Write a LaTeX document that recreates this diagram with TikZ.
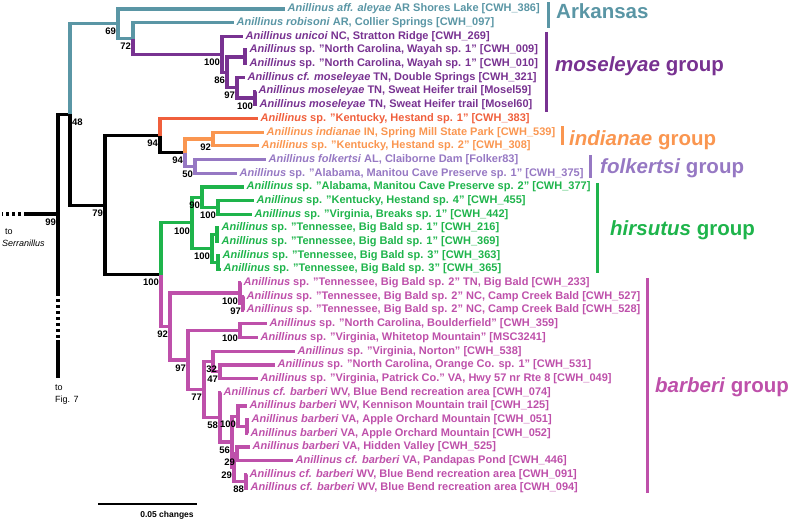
\documentclass[tikz,border=0pt]{standalone}
\usepackage{fontspec}
\setmainfont{Liberation Sans}
\definecolor{CladeArkansas}{RGB}{90,150,165}
\definecolor{CladeMoseleyae}{RGB}{120,50,145}
\definecolor{CladeKentucky}{RGB}{240,95,60}
\definecolor{CladeIndianae}{RGB}{250,150,80}
\definecolor{CladeFolkertsi}{RGB}{150,120,195}
\definecolor{CladeHirsutus}{RGB}{30,180,75}
\definecolor{CladeBarberi}{RGB}{190,80,170}
\tikzset{
    branch/.style={line width=3.2pt},
    broken/.style={dash pattern=on 2.8pt off 3.2pt},
    tip label/.style={anchor=west, inner xsep=2.5pt, inner ysep=0pt,
        font=\fontsize{11}{13}\selectfont\bfseries},
    support/.style={anchor=north east, inner sep=0.8pt, xshift=-1pt, yshift=-3.6pt,
        font=\fontsize{9.5}{11}\selectfont\bfseries},
    note/.style={anchor=west, inner sep=0pt, font=\fontsize{9}{11}\selectfont},
    group bar/.style={line width=3pt},
    group label/.style={anchor=base west, inner sep=0pt,
        font=\fontsize{20.5}{24}\selectfont\bfseries},
}

\begin{document}
\begin{tikzpicture}[x=1pt, y={(0pt,-13.69pt)}]
\useasboundingbox (0,0.343) rectangle (790,38.40);

% Nodos internos (x = longitud de rama, y = fila)
\coordinate (n99) at (58,15.97);
\coordinate (n48) at (70,8.70);
\coordinate (n69) at (118,2.078);
\coordinate (n72) at (133,3.156);
\coordinate (nMos) at (222,4.3125);
\coordinate (n86) at (227,5.625);
\coordinate (nWay) at (245,4.5);
\coordinate (n97a) at (237,6.75);
\coordinate (nSwe) at (255,7.5);
\coordinate (n79) at (105,15.33);
\coordinate (n94a) at (160,10.25);
\coordinate (n94b) at (185,11.5);
\coordinate (nInd) at (213,10.5);
\coordinate (nFol) at (195,12.5);
\coordinate (n100a) at (161,20.41);
\coordinate (nHir) at (192,16.625);
\coordinate (n90) at (202,14.75);
\coordinate (nHes) at (218,15.5);
\coordinate (nBig) at (212,18.5);
\coordinate (nBig1) at (217,17.5);
\coordinate (nBig3) at (218,19.5);
\coordinate (nBar) at (170,24.195);
\coordinate (nBb2) at (240,21.75);
\coordinate (nCam) at (243,22.5);
\coordinate (n97b) at (188,26.64);
\coordinate (nBou) at (240,24.5);
\coordinate (n77) at (204,28.78);
\coordinate (n32) at (213,26.75);
\coordinate (n47) at (220,27.5);
\coordinate (n58) at (220,30.8125);
\coordinate (n56) at (232,32.625);
\coordinate (nKen) at (238,30.75);
\coordinate (nApp) at (247,31.5);
\coordinate (n29b) at (234,34.5);
\coordinate (n29a) at (237,33.5);
\coordinate (n88) at (246,35.5);

% Terminales
\node[tip label, text=CladeArkansas] (t386) at (285,1) {\textit{Anillinus aff. aleyae} AR Shores Lake [CWH\_386]};
\node[tip label, text=CladeArkansas] (t097) at (234,2) {\textit{Anillinus robisoni} AR, Collier Springs [CWH\_097]};
\node[tip label, text=CladeMoseleyae] (t269) at (243,3) {\textit{Anillinus unicoi} NC, Stratton Ridge [CWH\_269]};
\node[tip label, text=CladeMoseleyae] (t009) at (247,4) {\textit{Anillinus} sp. "North Carolina, Wayah sp. 1" [CWH\_009]};
\node[tip label, text=CladeMoseleyae] (t010) at (247,5) {\textit{Anillinus} sp. "North Carolina, Wayah sp. 1" [CWH\_010]};
\node[tip label, text=CladeMoseleyae] (t321) at (245,6) {\textit{Anillinus cf. moseleyae} TN, Double Springs [CWH\_321]};
\node[tip label, text=CladeMoseleyae] (tM59) at (256,7) {\textit{Anillinus moseleyae} TN, Sweat Heifer trail [Mosel59]};
\node[tip label, text=CladeMoseleyae] (tM60) at (257,8) {\textit{Anillinus moseleyae} TN, Sweat Heifer trail [Mosel60]};
\node[tip label, text=CladeKentucky] (t383) at (258,9) {\textit{Anillinus} sp. "Kentucky, Hestand sp. 1" [CWH\_383]};
\node[tip label, text=CladeIndianae] (t539) at (264,10) {\textit{Anillinus indianae} IN, Spring Mill State Park [CWH\_539]};
\node[tip label, text=CladeIndianae] (t308) at (259,11) {\textit{Anillinus} sp. "Kentucky, Hestand sp. 2" [CWH\_308]};
\node[tip label, text=CladeFolkertsi] (tF83) at (266,12) {\textit{Anillinus folkertsi} AL, Claiborne Dam [Folker83]};
\node[tip label, text=CladeFolkertsi] (t375) at (237,13) {\textit{Anillinus} sp. "Alabama, Manitou Cave Preserve sp. 1" [CWH\_375]};
\node[tip label, text=CladeHirsutus] (t377) at (244,14) {\textit{Anillinus} sp. "Alabama, Manitou Cave Preserve sp. 2" [CWH\_377]};
\node[tip label, text=CladeHirsutus] (t455) at (254,15) {\textit{Anillinus} sp. "Kentucky, Hestand sp. 4" [CWH\_455]};
\node[tip label, text=CladeHirsutus] (t442) at (252,16) {\textit{Anillinus} sp. "Virginia, Breaks sp. 1" [CWH\_442]};
\node[tip label, text=CladeHirsutus] (t216) at (219,17) {\textit{Anillinus} sp. "Tennessee, Big Bald sp. 1" [CWH\_216]};
\node[tip label, text=CladeHirsutus] (t369) at (219,18) {\textit{Anillinus} sp. "Tennessee, Big Bald sp. 1" [CWH\_369]};
\node[tip label, text=CladeHirsutus] (t363) at (220,19) {\textit{Anillinus} sp. "Tennessee, Big Bald sp. 3" [CWH\_363]};
\node[tip label, text=CladeHirsutus] (t365) at (221,20) {\textit{Anillinus} sp. "Tennessee, Big Bald sp. 3" [CWH\_365]};
\node[tip label, text=CladeBarberi] (t233) at (241,21) {\textit{Anillinus} sp. "Tennessee, Big Bald sp. 2" TN, Big Bald [CWH\_233]};
\node[tip label, text=CladeBarberi] (t527) at (244,22) {\textit{Anillinus} sp. "Tennessee, Big Bald sp. 2" NC, Camp Creek Bald [CWH\_527]};
\node[tip label, text=CladeBarberi] (t528) at (244,23) {\textit{Anillinus} sp. "Tennessee, Big Bald sp. 2" NC, Camp Creek Bald [CWH\_528]};
\node[tip label, text=CladeBarberi] (t359) at (267,24) {\textit{Anillinus} sp. "North Carolina, Boulderfield" [CWH\_359]};
\node[tip label, text=CladeBarberi] (t3241) at (258,25) {\textit{Anillinus} sp. "Virginia, Whitetop Mountain" [MSC3241]};
\node[tip label, text=CladeBarberi] (t538) at (295,26) {\textit{Anillinus} sp. "Virginia, Norton" [CWH\_538]};
\node[tip label, text=CladeBarberi] (t531) at (275,27) {\textit{Anillinus} sp. "North Carolina, Orange Co. sp. 1" [CWH\_531]};
\node[tip label, text=CladeBarberi] (t049) at (258,28) {\textit{Anillinus} sp. "Virginia, Patrick Co." VA, Hwy 57 nr Rte 8 [CWH\_049]};
\node[tip label, text=CladeBarberi] (t074) at (221,29) {\textit{Anillinus cf. barberi} WV, Blue Bend recreation area [CWH\_074]};
\node[tip label, text=CladeBarberi] (t125) at (247,30) {\textit{Anillinus barberi} WV, Kennison Mountain trail [CWH\_125]};
\node[tip label, text=CladeBarberi] (t051) at (249,31) {\textit{Anillinus barberi} VA, Apple Orchard Mountain [CWH\_051]};
\node[tip label, text=CladeBarberi] (t052) at (248,32) {\textit{Anillinus barberi} VA, Apple Orchard Mountain [CWH\_052]};
\node[tip label, text=CladeBarberi] (t525) at (250,33) {\textit{Anillinus barberi} VA, Hidden Valley [CWH\_525]};
\node[tip label, text=CladeBarberi] (t446) at (293,34) {\textit{Anillinus cf. barberi} VA, Pandapas Pond [CWH\_446]};
\node[tip label, text=CladeBarberi] (t091) at (247,35) {\textit{Anillinus cf. barberi} WV, Blue Bend recreation area [CWH\_091]};
\node[tip label, text=CladeBarberi] (t094) at (248,36) {\textit{Anillinus cf. barberi} WV, Blue Bend recreation area [CWH\_094]};

% Ramas
\draw[branch] (n99) |- (n48) (n48) |- (n79) (n79) |- (n94a) (n94a) |- (n94b) (n79) |- (n100a);
\draw[branch, CladeArkansas] (n48) |- (n69) (n69) |- (t386.west) (n69) |- (n72) (n72) |- (t097.west);
\draw[branch, CladeMoseleyae] (n72) |- (nMos) (nMos) |- (t269.west) (nMos) |- (n86)
    (n86) |- (nWay) (nWay) |- (t009.west) (nWay) |- (t010.west)
    (n86) |- (n97a) (n97a) |- (t321.west) (n97a) |- (nSwe) (nSwe) |- (tM59.west) (nSwe) |- (tM60.west);
\draw[branch, CladeKentucky] (n94a) |- (t383.west);
\draw[branch, CladeIndianae] (n94b) |- (nInd) (nInd) |- (t539.west) (nInd) |- (t308.west);
\draw[branch, CladeFolkertsi] (n94b) |- (nFol) (nFol) |- (tF83.west) (nFol) |- (t375.west);
\draw[branch, CladeHirsutus] (n100a) |- (nHir) (nHir) |- (n90) (n90) |- (t377.west)
    (n90) |- (nHes) (nHes) |- (t455.west) (nHes) |- (t442.west)
    (nHir) |- (nBig) (nBig) |- (nBig1) (nBig1) |- (t216.west) (nBig1) |- (t369.west)
    (nBig) |- (nBig3) (nBig3) |- (t363.west) (nBig3) |- (t365.west);
\draw[branch, CladeBarberi] (n100a) |- (nBar) (nBar) |- (nBb2) (nBb2) |- (t233.west)
    (nBb2) |- (nCam) (nCam) |- (t527.west) (nCam) |- (t528.west)
    (nBar) |- (n97b) (n97b) |- (nBou) (nBou) |- (t359.west) (nBou) |- (t3241.west)
    (n97b) |- (n77) (n77) |- (n32) (n32) |- (t538.west) (n32) |- (n47) (n47) |- (t531.west) (n47) |- (t049.west)
    (n77) |- (n58) (n58) |- (t074.west) (n58) |- (n56)
    (n56) |- (nKen) (nKen) |- (t125.west) (nKen) |- (nApp) (nApp) |- (t051.west) (nApp) |- (t052.west)
    (n56) |- (n29b) (n29b) |- (n29a) (n29a) |- (t525.west) (n29a) |- (t446.west)
    (n29b) |- (n88) (n88) |- (t091.west) (n88) |- (t094.west);

% Ramas hacia los grupos externos
\coordinate (serr) at (27,15.97);
\coordinate (serrEnd) at (2,15.97);
\coordinate (figA) at (58,21.74);
\coordinate (figB) at (58,25.18);
\coordinate (figEnd) at (58,27.95);
\draw[branch] (n99) -- (serr);
\draw[branch, broken] (serr) -- (serrEnd);
\draw[branch] (n99) -- (figA);
\draw[branch, broken] (figA) -- (figB);
\draw[branch] (figB) -- (figEnd);
\node[note] (toSerr) at (5,17.29) {to};
\node[note] (nameSerr) at (2,18.09) {\textit{Serranillus}};
\node[note] (toFig) at (55,28.68) {to};
\node[note] (nameFig) at (55,29.56) {Fig. 7};

% Valores de soporte
\node[support] at (n99) {99};
\node[support, anchor=north west, xshift=2pt] at (n48) {48};
\node[support] at (n69) {69};
\node[support] at (n72) {72};
\node[support] at (nMos) {100};
\node[support] at (n86) {86};
\node[support] at (n97a) {97};
\node[support] at (nSwe) {100};
\node[support] at (n79) {79};
\node[support] at (n94a) {94};
\node[support] at (n94b) {94};
\node[support] at (nInd) {92};
\node[support] at (nFol) {50};
\node[support] at (n100a) {100};
\node[support] at (nHir) {100};
\node[support] at (n90) {90};
\node[support] at (nHes) {100};
\node[support] at (nBig) {100};
\node[support] at (nBar) {92};
\node[support] at (nBb2) {100};
\node[support] at (nCam) {97};
\node[support] at (n97b) {97};
\node[support] at (nBou) {100};
\node[support] at (n77) {77};
\node[support, xshift=6pt] at (n32) {32};
\node[support] at (n47) {47};
\node[support] at (n58) {58};
\node[support] at (n56) {56};
\node[support] at (nKen) {100};
\node[support] at (n29a) {29};
\node[support] at (n29b) {29};
\node[support] at (n88) {88};

% Barras y nombres de grupos
\draw[group bar, CladeArkansas] (548,0.49) -- (548,2.39);
\draw[group bar, CladeMoseleyae] (546,2.68) -- (546,8.52);
\draw[group bar, CladeIndianae] (562,9.55) -- (562,10.93);
\draw[group bar, CladeFolkertsi] (590,11.66) -- (590,13.34);
\draw[group bar, CladeHirsutus] (597,13.71) -- (597,20.28);
\draw[group bar, CladeBarberi] (647,20.65) -- (647,36.35);
\node[group label, text=CladeArkansas] (gArk) at (556,1.68) {Arkansas};
\node[group label, text=CladeMoseleyae] (gMos) at (555,5.58) {\textit{moseleyae} group};
\node[group label, text=CladeIndianae] (gInd) at (569,10.98) {\textit{indianae} group};
\node[group label, text=CladeFolkertsi] (gFol) at (600,13.0) {\textit{folkertsi} group};
\node[group label, text=CladeHirsutus] (gHir) at (610,17.51) {\textit{hirsutus} group};
\node[group label, text=CladeBarberi] (gBar) at (655,29.0) {\textit{barberi} group};

% Escala
\coordinate (barL) at (98,37.16);
\coordinate (barR) at (197,37.16);
\draw[line width=1.3pt] (barL) -- (barR);
\node[font=\fontsize{8.5}{10}\selectfont\bfseries, inner sep=0pt] (scaleText) at (167,37.96) {0.05 changes};
\end{tikzpicture}
\end{document}
